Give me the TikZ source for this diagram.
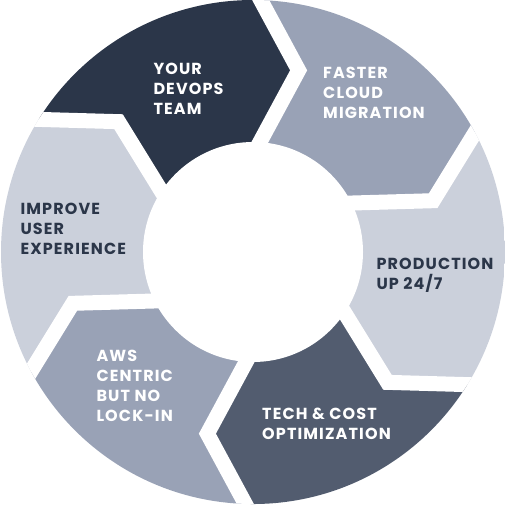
\documentclass[tikz,border=0pt]{standalone}
\usepackage{fontspec}
\setmainfont{Poppins}[LetterSpace=7]
\tikzset{every picture/.style={line width=0.75pt}}
\tikzset{
  gapline/.style={color=white, line width=11.25pt, line join=miter},
  ringlabel/.style={anchor=north west, inner sep=0pt, align=left, font=\bfseries\fontsize{12}{15}\selectfont},
}

\begin{document}
\begin{tikzpicture}[x=0.75pt,y=0.75pt,yscale=-1,xscale=1]
	\useasboundingbox (0,0) rectangle (505,504);

	\begin{scope}
	\clip (253,252) circle (252);
	%Shape: Polygon [id:devops] 
	\fill [color={rgb, 255:red, 43; green, 54; blue, 73 }] (253,252) -- (173.44,210.82) -- (118.50,121.66) -- (-41.06,117.13) -- (222.77,-70.10) -- (298.63,70.34) -- (248.88,162.51) -- cycle ;
	%Shape: Polygon [id:migration] 
	\fill [color={rgb, 255:red, 153; green, 162; blue, 182 }] (253,252) -- (248.88,162.51) -- (298.63,70.34) -- (222.77,-70.10) -- (516.83,64.77) -- (433.14,200.69) -- (328.44,203.69) -- cycle ;
	%Shape: Polygon [id:production] 
	\fill [color={rgb, 255:red, 203; green, 208; blue, 219 }] (253,252) -- (328.44,203.69) -- (433.14,200.69) -- (516.83,64.77) -- (547.06,386.87) -- (387.50,382.34) -- (332.56,293.18) -- cycle ;
	%Shape: Polygon [id:tech] 
	\fill [color={rgb, 255:red, 82; green, 92; blue, 111 }] (253,252) -- (332.56,293.18) -- (387.50,382.34) -- (547.06,386.87) -- (283.23,574.10) -- (207.37,433.66) -- (257.12,341.49) -- cycle ;
	%Shape: Polygon [id:aws] 
	\fill [color={rgb, 255:red, 153; green, 162; blue, 182 }] (253,252) -- (257.12,341.49) -- (207.37,433.66) -- (283.23,574.10) -- (-10.83,439.23) -- (72.86,303.31) -- (177.56,300.31) -- cycle ;
	%Shape: Polygon [id:improve] 
	\fill [color={rgb, 255:red, 203; green, 208; blue, 219 }] (253,252) -- (177.56,300.31) -- (72.86,303.31) -- (-10.83,439.23) -- (-41.06,117.13) -- (118.50,121.66) -- (173.44,210.82) -- cycle ;

	%Straight Lines [id:gaps] 
	\draw [gapline] (222.77,-70.10) -- (298.63,70.34) -- (248.88,162.51) ;
	\draw [gapline] (516.83,64.77) -- (433.14,200.69) -- (328.44,203.69) ;
	\draw [gapline] (547.06,386.87) -- (387.50,382.34) -- (332.56,293.18) ;
	\draw [gapline] (283.23,574.10) -- (207.37,433.66) -- (257.12,341.49) ;
	\draw [gapline] (-10.83,439.23) -- (72.86,303.31) -- (177.56,300.31) ;
	\draw [gapline] (-41.06,117.13) -- (118.50,121.66) -- (173.44,210.82) ;
	\end{scope}

	%Shape: Circle [id:hub] 
	\fill [color=white] (253,252) circle (110) ;

	% Text Node
	\node [ringlabel, text=white] (devops) at (153,63) {YOUR\\DEVOPS\\TEAM};
	% Text Node
	\node [ringlabel, text=white] (migration) at (322.7,67) {FASTER\\CLOUD\\MIGRATION};
	% Text Node
	\node [ringlabel, text={rgb, 255:red, 43; green, 54; blue, 73 }] (production) at (376,258) {PRODUCTION\\UP 24/7};
	% Text Node
	\node [ringlabel, text=white] (tech) at (261.7,407.5) {TECH \& COST\\OPTIMIZATION};
	% Text Node
	\node [ringlabel, text=white] (aws) at (96,350) {AWS\\CENTRIC\\BUT NO\\LOCK-IN};
	% Text Node
	\node [ringlabel, text={rgb, 255:red, 43; green, 54; blue, 73 }] (improve) at (20,203) {IMPROVE\\USER\\EXPERIENCE};

\end{tikzpicture}
\end{document}
